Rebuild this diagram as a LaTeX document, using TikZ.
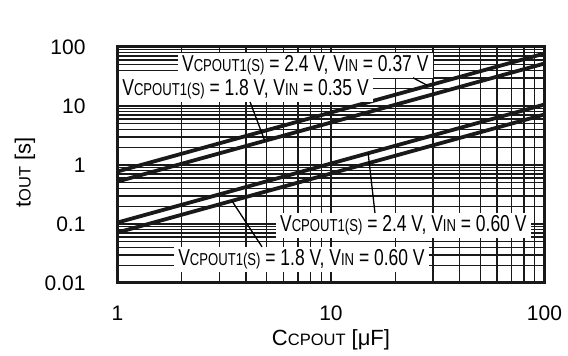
\documentclass[tikz,border=0pt]{standalone}
\usepackage{fontspec}
\setmainfont{Liberation Sans}
\newfontfamily\narrowfont{Liberation Sans}[FakeStretch=0.76]
\usetikzlibrary{calc}
\newcommand{\lowcap}[2][17.25pt]{{\fontsize{#1}{#1}\selectfont #2}}

\begin{document}
\begin{tikzpicture}[
    x=213.5pt, y=59pt,
    gridline/.style={black!90, line width=1.4pt},
    frame/.style={black!90, line width=3pt},
    curve/.style={black!90, line width=3.8pt},
    lbl/.style={fill=white, anchor=west, inner xsep=4pt, inner ysep=2.5pt, font={\narrowfont\fontsize{23pt}{27pt}\selectfont}},
    leader/.style={black, line width=1.3pt},
    tick/.style={font={\fontsize{21pt}{25pt}\selectfont}},
    axtitle/.style={font={\fontsize{22pt}{26pt}\selectfont}}
]
    \useasboundingbox (-117.5pt,-73pt) rectangle (450.5pt,283pt);

    % Grid
    \foreach \d in {0,1}
        \foreach \m in {2,...,9}
            \draw[gridline] ({\d+log10(\m)},0) -- ++(0,4);
    \draw[gridline] (1,0) -- (1,4);
    \foreach \d in {0,...,3}
        \foreach \m in {2,...,9}
            \draw[gridline] (0,{\d+log10(\m)}) -- ++(2,0);
    \foreach \d in {1,2,3}
        \draw[gridline] (0,\d) -- (2,\d);

    % Curves
    \draw[curve] (0,1.890) -- (2,3.890) coordinate[pos=0.727] (onA);
    \draw[curve] (0,1.720) -- (2,3.720) coordinate[pos=0.345] (onB);
    \draw[curve] (0,1.025) -- (2,3.025) coordinate[pos=0.587] (onC);
    \draw[curve] (0,0.856) -- (2,2.856) coordinate[pos=0.268] (onD);

    % Labels
    \node[lbl] (lblA) at (0.283,3.690) {V\lowcap{CPOUT1(S)} = 2.4 V, V\lowcap{IN} = 0.37 V};
    \node[lbl] (lblB) at (0.003,3.280) {V\lowcap{CPOUT1(S)} = 1.8 V, V\lowcap{IN} = 0.35 V};
    \node[lbl] (lblC) at (0.742,0.975) {V\lowcap{CPOUT1(S)} = 2.4 V, V\lowcap{IN} = 0.60 V};
    \node[lbl] (lblD) at (0.265,0.400) {V\lowcap{CPOUT1(S)} = 1.8 V, V\lowcap{IN} = 0.60 V};

    \draw[leader] (1.384,0 |- lblA.south) -- (onA);
    \draw[leader] (0.621,0 |- lblB.south) -- (onB);
    \draw[leader] (1.206,0 |- lblC.north) -- (onC);
    \draw[leader] (0.677,0 |- lblD.north) -- (onD);

    % Frame
    \draw[frame] (0,0) rectangle (2,4);

    % Ticks
    \foreach \k/\t in {0/0.01,1/0.1,2/1,3/10,4/100}
        \node[tick, anchor=east] (ytick\k) at (-0.1335,\k) {\t};
    \foreach \k/\t in {0/1,1/10,2/100}
        \node[tick] (xtick\k) at (\k,-0.508) {\t};

    % Axis titles
    \node[axtitle] (xtitle) at (1,-0.966) {C\lowcap[16.5pt]{CPOUT} [μF]};
    \node[axtitle, rotate=90] (ytitle) at (-0.433,1.88) {t\lowcap[16.5pt]{OUT} [s]};
\end{tikzpicture}
\end{document}
